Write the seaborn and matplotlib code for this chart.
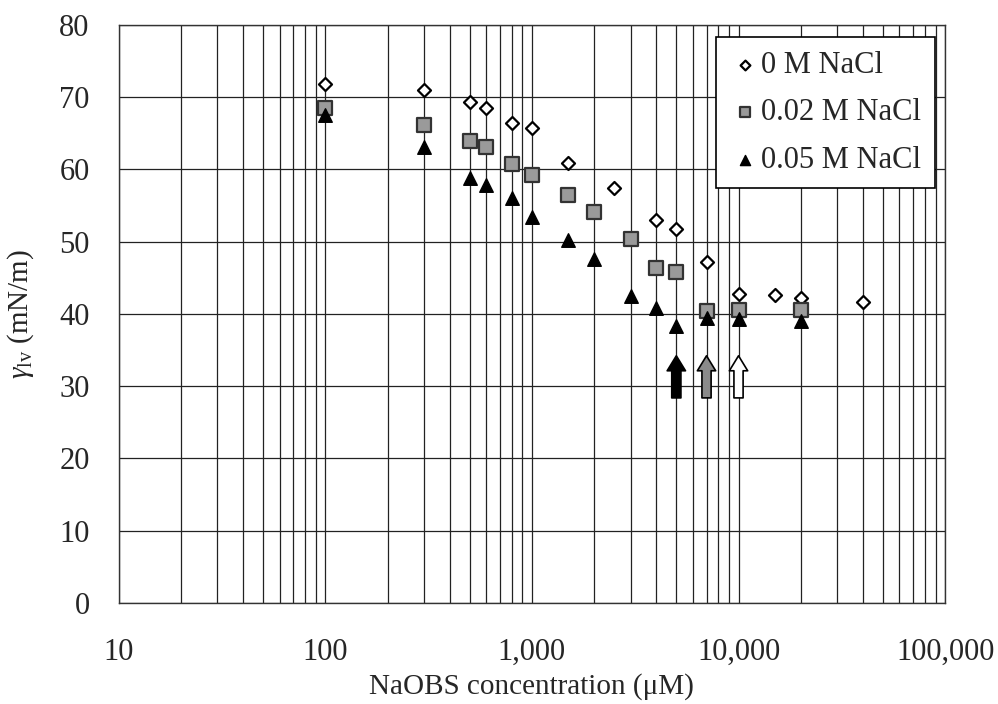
import numpy as np
import pandas as pd
import matplotlib
matplotlib.use("Agg")
import matplotlib.pyplot as plt
import matplotlib.ticker as mticker
import seaborn as sns

# ---- data ----
conc_0 = [100, 300, 500, 600, 800, 1000, 1500, 2500, 4000, 5000, 7000, 10000, 15000, 20000, 40000]
gamma_0 = [71.8, 71.0, 69.3, 68.5, 66.5, 65.8, 60.9, 57.5, 53.0, 51.8, 47.2, 42.8, 42.6, 42.2, 41.7]

conc_002 = [100, 300, 500, 600, 800, 1000, 1500, 2000, 3000, 4000, 5000, 7000, 10000, 20000]
gamma_002 = [68.5, 66.2, 63.9, 63.1, 60.8, 59.3, 56.4, 54.1, 50.4, 46.4, 45.8, 40.4, 40.6, 40.5]

conc_005 = [100, 300, 500, 600, 800, 1000, 1500, 2000, 3000, 4000, 5000, 7000, 10000, 20000]
gamma_005 = [67.5, 63.1, 58.8, 57.8, 56.0, 53.4, 50.2, 47.6, 42.5, 40.8, 38.4, 39.4, 39.3, 39.0]

labels = ["0 M NaCl", "0.02 M NaCl", "0.05 M NaCl"]

# CMC arrows (concentration, arrow base, arrow tip)
cmc_conc = [5000, 7000, 10000]
arrow_base = [28.0, 28.0, 28.0]
arrow_tip = [34.6, 34.6, 34.6]
arrow_fill = ["black", "#8a8a8a", "white"]

x_ticks = [10, 100, 1000, 10000, 100000]
y_ticks = [0, 10, 20, 30, 40, 50, 60, 70, 80]

df = pd.concat([
    pd.DataFrame({"conc": conc_0, "gamma": gamma_0, "series": labels[0]}),
    pd.DataFrame({"conc": conc_002, "gamma": gamma_002, "series": labels[1]}),
    pd.DataFrame({"conc": conc_005, "gamma": gamma_005, "series": labels[2]}),
])

sns.set_theme(style="white")
plt.rcParams["font.family"] = ["Liberation Serif", "DejaVu Serif"]
plt.rcParams["mathtext.fontset"] = "custom"
plt.rcParams["mathtext.rm"] = "Liberation Serif"
plt.rcParams["mathtext.it"] = "Liberation Serif:italic"

fig = plt.figure(figsize=(9.98, 7.04), dpi=100)
ax = fig.add_axes([0.119, 0.1435, 0.828, 0.821])

styles = {
    labels[0]: dict(marker="D", s=44, facecolor="white", edgecolor="black", linewidth=1.6),
    labels[1]: dict(marker="s", s=105, facecolor="#9a9a9a", edgecolor="#333333", linewidth=1.6),
    labels[2]: dict(marker="^", s=95, facecolor="black", edgecolor="black", linewidth=1.0),
}
for lab in labels:
    sub = df[df["series"] == lab]
    st = styles[lab]
    sns.scatterplot(data=sub, x="conc", y="gamma", ax=ax, marker=st["marker"], s=st["s"],
                    color=st["facecolor"], edgecolor=st["edgecolor"], linewidth=st["linewidth"],
                    label=lab, zorder=3)

for c, b, t, f in zip(cmc_conc, arrow_base, arrow_tip, arrow_fill):
    ax.annotate("", xy=(c, t), xytext=(c, b),
                arrowprops=dict(arrowstyle="simple,head_width=1.1,head_length=0.9,tail_width=0.55",
                                fc=f, ec="black", lw=1.2), zorder=4)

ax.set_xscale("log")
ax.set_xlim(10, 100000)
ax.set_ylim(0, 80)
ax.set_xticks(x_ticks)
ax.set_yticks(y_ticks)
ax.xaxis.set_major_formatter(mticker.FuncFormatter(lambda v, p: f"{int(round(v)):,}"))
ax.xaxis.set_minor_locator(mticker.LogLocator(base=10, subs=np.arange(2, 10)))
ax.xaxis.set_minor_formatter(mticker.NullFormatter())

ax.grid(True, which="major", axis="both", color="#222222", lw=0.9)
ax.grid(True, which="minor", axis="x", color="#222222", lw=0.9)
ax.set_axisbelow(True)

ax.tick_params(axis="both", which="major", labelsize=22, direction="out", length=9,
               width=1, color="#333333", pad=12)
ax.tick_params(axis="x", which="minor", length=0)
ax.tick_params(axis="x", which="major", pad=16)
for s in ax.spines.values():
    s.set_color("#333333")
    s.set_linewidth(1.0)

ax.set_xlabel("NaOBS concentration (μM)", fontsize=21)
ax.xaxis.set_label_coords(0.5, -0.122)
ax.set_ylabel(r"$\gamma_{\mathrm{lv}}$ (mN/m)", fontsize=21)
ax.yaxis.set_label_coords(-0.1, 0.5)

leg = ax.legend(loc="upper right", bbox_to_anchor=(0.988, 0.979), fontsize=22,
                frameon=True, fancybox=False, edgecolor="black", framealpha=1,
                handletextpad=0.05, borderpad=0.45, labelspacing=0.6, handlelength=1.0,
                markerscale=0.75, borderaxespad=0)
leg.get_frame().set_linewidth(1.2)

fig.savefig("out.png", dpi=100)
